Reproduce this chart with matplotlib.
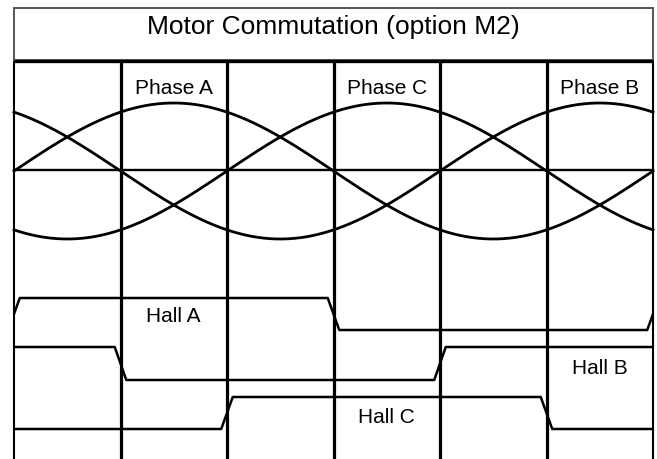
"""Motor commutation timing chart (option M2)."""

import matplotlib as mpl
import matplotlib.pyplot as plt
import numpy as np
from matplotlib.patches import Rectangle

mpl.rcParams["font.family"] = ["Liberation Sans", "DejaVu Sans"]

# electrical angle, one full turn split into six 60 degree sectors
sector_edges = [0, 60, 120, 180, 240, 300, 360]

# phase waveforms: name and angle of the positive peak
phase_names = ["Phase A", "Phase C", "Phase B"]
phase_peaks = [90, 210, 330]

# hall sensor states per sector
hall_names = ["Hall A", "Hall B", "Hall C"]
hall_a = [1, 1, 1, 0, 0, 0]
hall_b = [1, 0, 0, 0, 1, 1]
hall_c = [0, 0, 1, 1, 1, 0]
hall_label_sector = [1, 5, 3]

title = "Motor Commutation (option M2)"

# layout (y in pixel units of the 657x460 canvas)
W, H = 657, 460
x0_px, x1_px = 14, 653
deg_per_px = 360 / (x1_px - x0_px)
phase_mid, phase_amp = 172, 68
hall_levels = [(299, 331), (348, 381), (398, 430)]  # (high, low)
hall_label_y = [317, 369, 418]
ramp = 6.5  # degrees


def hall_trace(states):
    """Trapezoid trace for a periodic sector state list."""
    xs, ys = [], []
    ext = states[-1:] + states + states[:1]
    bounds = [-60] + sector_edges + [420]
    xs.append(bounds[0])
    ys.append(ext[0])
    for i in range(1, len(ext)):
        b = bounds[i]
        if ext[i] != ext[i - 1]:
            xs += [b - ramp / 2, b + ramp / 2]
            ys += [ext[i - 1], ext[i]]
    xs.append(bounds[-1])
    ys.append(ext[-1])
    return np.array(xs, float), np.array(ys, float)


fig = plt.figure(figsize=(W / 100, H / 100), dpi=100)
ax = fig.add_axes([0, 0, 1, 1])
ax.set_xlim(-x0_px * deg_per_px, (W - x0_px) * deg_per_px)
ax.set_ylim(H, 0)
ax.axis("off")

# title box
ax.add_patch(Rectangle((0, 9), 360, 52, fill=False, edgecolor="#555555", lw=1.4))
ax.plot([0, 360], [62, 62], color="black", lw=2.4, solid_capstyle="butt")
ax.text(180, 27, title, ha="center", va="center", fontsize=19)

# sector boundaries
for i, e in enumerate(sector_edges):
    lw = 1.5 if i in (0, len(sector_edges) - 1) else 2.3
    ax.plot([e, e], [62, H + 2], color="black", lw=lw, solid_capstyle="butt")

# phase waveforms
theta = np.linspace(0, 360, 721)
ax.plot([0, 360], [phase_mid - 1, phase_mid - 1], color="black", lw=1.7)
for name, peak in zip(phase_names, phase_peaks):
    v = np.cos(np.radians(theta - peak))
    ax.plot(theta, phase_mid - phase_amp * v, color="black", lw=2.0)
    ax.text(peak, 88, name, ha="center", va="center", fontsize=15)

# hall sensors
clip = Rectangle((0, 0), 360, H, transform=ax.transData)
for name, states, (hi, lo), sec, ly in zip(
    hall_names, [hall_a, hall_b, hall_c], hall_levels, hall_label_sector, hall_label_y
):
    xs, ys = hall_trace(states)
    (ln,) = ax.plot(xs, lo + (hi - lo) * ys, color="black", lw=1.8)
    ln.set_clip_path(clip)
    cx = (sector_edges[sec] + sector_edges[sec + 1]) / 2
    ax.text(cx, ly, name, ha="center", va="center", fontsize=15)

fig.savefig("out.png", dpi=100)
